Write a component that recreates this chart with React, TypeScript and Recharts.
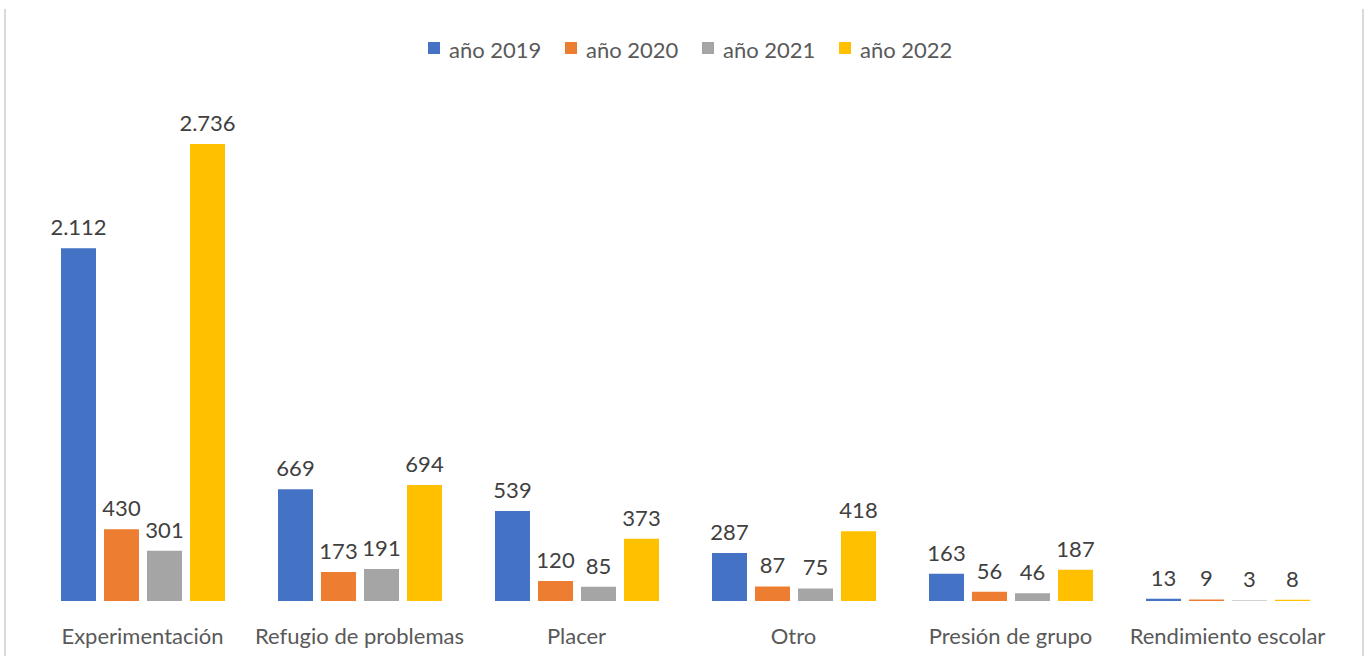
import React from 'react';
import { BarChart, Bar, XAxis, YAxis, Legend, LabelList } from 'recharts';

const categories = [
  'Experimentación',
  'Refugio de problemas',
  'Placer',
  'Otro',
  'Presión de grupo',
  'Rendimiento escolar',
];
const y2019 = [2112, 669, 539, 287, 163, 13];
const y2020 = [430, 173, 120, 87, 56, 9];
const y2021 = [301, 191, 85, 75, 46, 3];
const y2022 = [2736, 694, 373, 418, 187, 8];

const seriesNames = ['año 2019', 'año 2020', 'año 2021', 'año 2022'];
const seriesKeys = ['y2019', 'y2020', 'y2021', 'y2022'];
const seriesColors = ['#4472C4', '#ED7D31', '#A5A5A5', '#FFC000'];
const seriesValues = [y2019, y2020, y2021, y2022];

const data = categories.map((name, i) => {
  const row: Record<string, string | number> = { name };
  seriesKeys.forEach((k, s) => {
    row[k] = seriesValues[s][i];
  });
  return row;
});

const FONT = 'Lato, "Open Sans", sans-serif';

const fmt = (v: any) => String(v).replace(/\B(?=(\d{3})+(?!\d))/g, '.');

const CategoryTick = (props: any) => {
  const { x, y, payload } = props;
  return (
    <text x={x} y={y + 43} textAnchor="middle" fill="#595959" fontSize={22} fontFamily={FONT}>
      {payload.value}
    </text>
  );
};

const LegendContent = () => (
  <div style={{ display: 'flex', fontFamily: FONT, fontSize: 22, color: '#595959' }}>
    {seriesNames.map((n, i) => (
      <div key={n} style={{ display: 'flex', alignItems: 'center', width: 137, height: 24 }}>
        <span style={{ display: 'inline-block', width: 12, height: 12, background: seriesColors[i], marginRight: 9, marginTop: -4 }} />
        <span style={{ lineHeight: '24px' }}>{n}</span>
      </div>
    ))}
  </div>
);

export default function App() {
  return (
    <div style={{ position: 'absolute', left: 0, top: 0, width: 1368, height: 656, background: '#fff', overflow: 'hidden' }}>
      <div style={{ position: 'absolute', left: 4, top: 9, width: 2, height: 647, background: '#D9D9D9' }} />
      <div style={{ position: 'absolute', left: 1362, top: 9, width: 2, height: 647, background: '#D9D9D9' }} />
      <BarChart
        width={1368}
        height={656}
        data={data}
        margin={{ top: 76, right: 32, left: 34, bottom: 0 }}
        barSize={35}
        barGap={8}
      >
        <XAxis
          dataKey="name"
          axisLine={false}
          tickLine={false}
          tickSize={0}
          tickMargin={0}
          height={55}
          interval={0}
          tick={<CategoryTick />}
        />
        <YAxis hide domain={[0, 3000]} />
        <Legend
          verticalAlign="top"
          height={24}
          content={<LegendContent />}
          wrapperStyle={{ top: 38, left: 428, width: 560 }}
        />
        {seriesKeys.map((k, i) => (
          <Bar key={k} dataKey={k} name={seriesNames[i]} fill={seriesColors[i]} isAnimationActive={false}>
            <LabelList
              dataKey={k}
              position="top"
              offset={13}
              formatter={fmt}
              fill="#404040"
              fontSize={22}
              fontFamily={FONT}
            />
          </Bar>
        ))}
      </BarChart>
    </div>
  );
}
